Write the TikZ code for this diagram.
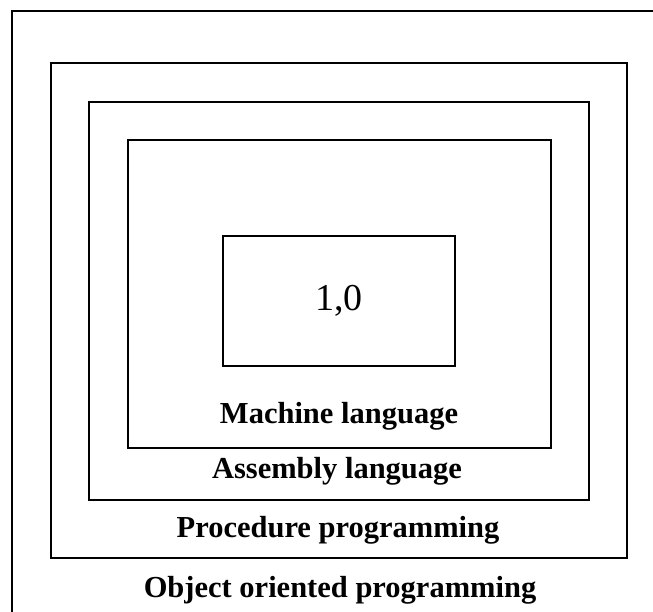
\documentclass[tikz,border=0pt]{standalone}
\usepackage{fontspec}
\setmainfont{Liberation Serif}
\usetikzlibrary{positioning}

\begin{document}
\begin{tikzpicture}[
    x=1pt, y=-1pt,
    layer/.style={rectangle, draw, line width=1.6pt, inner sep=0pt},
    caption/.style={font=\fontsize{30.5}{36}\selectfont\bfseries, anchor=base, inner sep=0pt}
]
    \useasboundingbox (0,0) rectangle (653,612);
    \clip (0,0) rectangle (653,612);

    % Layers, from outside in
    \node [layer, minimum width=654pt, minimum height=629pt] (oop) at (339, 325.5) {};
    \node [layer, minimum width=576pt, minimum height=495pt] (proc) at (339, 310.5) {};
    \node [layer, minimum width=500pt, minimum height=398pt] (asm) at (339, 301) {};
    \node [layer, minimum width=423pt, minimum height=308pt] (mach) at (339.5, 294) {};

    % Core
    \node [layer, minimum width=232pt, minimum height=130pt,
           font=\fontsize{38}{44}\selectfont] (bits) at (339, 301) {1,0};

    % Labels
    \node [caption] (machlabel) at (339, 423) {Machine language};
    \node [caption] (asmlabel) at (337, 478) {Assembly language};
    \node [caption] (proclabel) at (338, 537) {Procedure programming};
    \node [caption] (ooplabel) at (340, 597) {Object oriented programming};
\end{tikzpicture}
\end{document}
